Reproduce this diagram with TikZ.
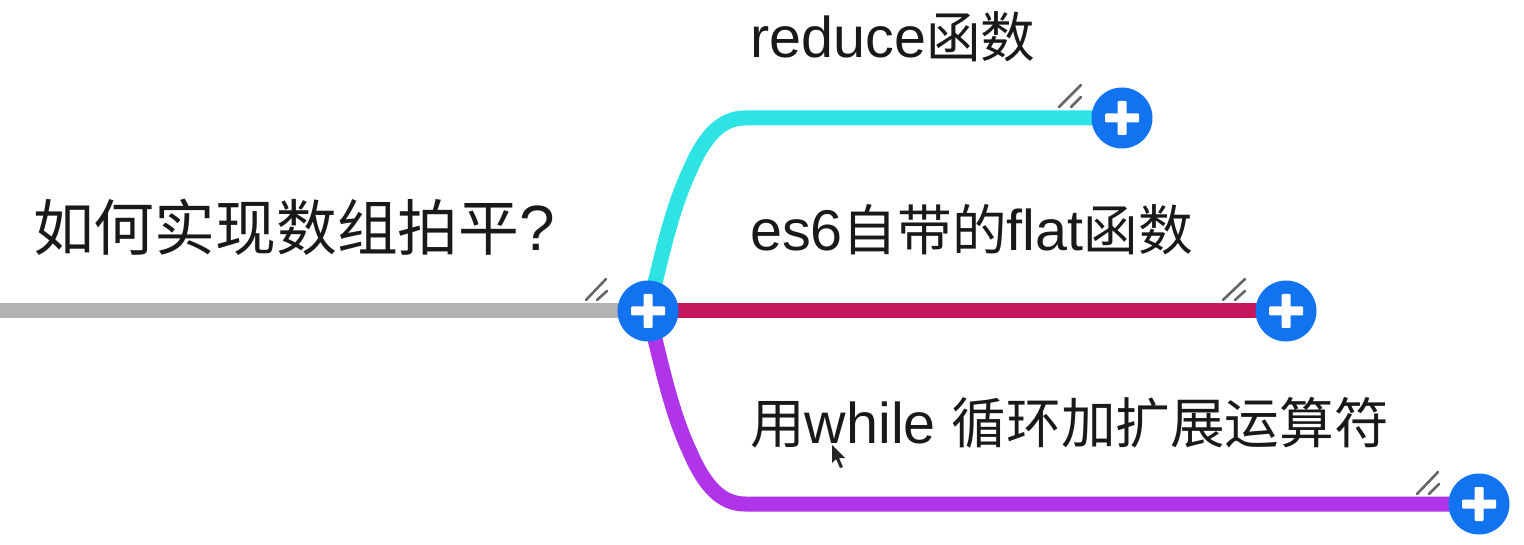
\documentclass[tikz,border=0pt]{standalone}
\usepackage{fontspec}
\setmainfont{Liberation Sans}
\newfontfamily\cjk[Scale=0.95]{Noto Sans CJK SC}
\newcommand{\cj}[1]{{\cjk #1}}
\definecolor{cyanline}{HTML}{2DE3E3}
\definecolor{redline}{HTML}{C4175C}
\definecolor{purpleline}{HTML}{B035E8}
\definecolor{greyline}{HTML}{B3B3B3}
\definecolor{plusblue}{HTML}{1273F0}
\tikzset{
  x=1pt,y=-1pt,
  plusnode/.style={circle,fill=plusblue,minimum size=61pt,inner sep=0pt},
  edgeline/.style={line width=15pt},
  lbl/.style={anchor=west,inner sep=0pt,text=black!90,font=\fontsize{57.5}{57}\selectfont},
  rootlbl/.style={lbl,font=\fontsize{64}{64}\selectfont},
  hash/.style={draw=black!60,line width=2.6pt,line cap=round},
}
\newcommand{\plusmark}[1]{%
  \fill[white,rounded corners=1pt] ([xshift=-17pt,yshift=-4.5pt]#1) rectangle ([xshift=17pt,yshift=4.5pt]#1);
  \fill[white,rounded corners=1pt] ([xshift=-4.5pt,yshift=-17pt]#1) rectangle ([xshift=4.5pt,yshift=17pt]#1);}
\begin{document}
\begin{tikzpicture}
\useasboundingbox (0,0) rectangle (1524,545);
\coordinate (start) at (0,311);
\coordinate (hubc) at (648,311);
% connectors
\draw[edgeline,greyline] (start) -- (hubc);
\draw[edgeline,redline] (hubc) -- (1286,311) coordinate (b2c);
\draw[edgeline,cyanline] (hubc) .. controls (660,265) and (670,212) .. (690,170) .. controls (705,135) and (722,118) .. (745,118) -- (1122,118) coordinate (b1c);
\draw[edgeline,purpleline] (hubc) .. controls (660,357) and (670,410) .. (690,452) .. controls (705,487) and (722,504) .. (745,504) -- (1479,504) coordinate (b3c);
% hash marks
\draw[hash] (586,300) -- (606,279);
\draw[hash] (597,300) -- (607,291);
\draw[hash] (1059,107) -- (1081,85);
\draw[hash] (1071,107) -- (1081,97);
\draw[hash] (1223,300) -- (1245,279);
\draw[hash] (1235,300) -- (1245,291);
\draw[hash] (1417,494) -- (1438,472);
\draw[hash] (1429,494) -- (1439,484);
% plus nodes
\node[plusnode] (hub) at (hubc) {};
\node[plusnode] (b1) at (b1c) {};
\node[plusnode] (b2) at (b2c) {};
\node[plusnode] (b3) at (b3c) {};
\plusmark{hub}\plusmark{b1}\plusmark{b2}\plusmark{b3}
% labels
\node[rootlbl] (root) at (33,227) {\cj{如何实现数组拍平}?};
\node[lbl] (t1) at (750,37) {reduce\cj{函数}};
\node[lbl] (t2) at (750,230) {es6\cj{自带的}flat\cj{函数}};
\node[lbl] (t3) at (750,423) {\cj{用}while \cj{循环加扩展运算符}};
% cursor
\fill[black!85] (832,445) -- (832,463) -- (836,459) -- (840,468) -- (843,467) -- (839,458) -- (845,458) -- cycle;
\end{tikzpicture}
\end{document}
